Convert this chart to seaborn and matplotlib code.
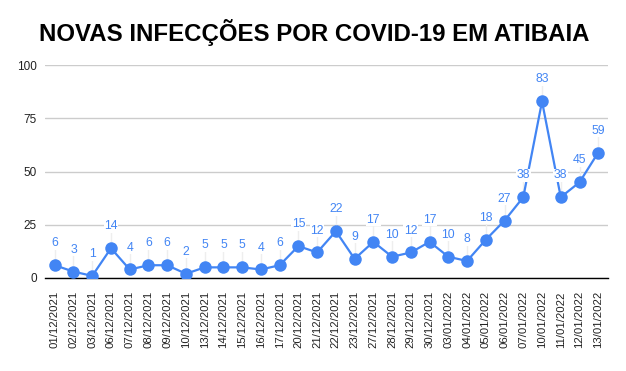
import numpy as np
import pandas as pd
import seaborn as sns
import matplotlib.pyplot as plt

dates = ["01/12/2021", "02/12/2021", "03/12/2021", "06/12/2021", "07/12/2021",
         "08/12/2021", "09/12/2021", "10/12/2021", "13/12/2021", "14/12/2021",
         "15/12/2021", "16/12/2021", "17/12/2021", "20/12/2021", "21/12/2021",
         "22/12/2021", "23/12/2021", "27/12/2021", "28/12/2021", "29/12/2021",
         "30/12/2021", "03/01/2022", "04/01/2022", "05/01/2022", "06/01/2022",
         "07/01/2022", "10/01/2022", "11/01/2022", "12/01/2022", "13/01/2022"]
cases = [6, 3, 1, 14, 4, 6, 6, 2, 5, 5, 5, 4, 6, 15, 12,
         22, 9, 17, 10, 12, 17, 10, 8, 18, 27, 38, 83, 38, 45, 59]
yticks = [0, 25, 50, 75, 100]

df = pd.DataFrame({"pos": np.arange(len(dates)), "date": dates, "cases": cases})

sns.set_style("white")
plt.rcParams["font.family"] = ["Liberation Sans", "DejaVu Sans"]

blue = "#4285F4"
fig = plt.figure(figsize=(6.26, 3.71), dpi=100)
ax = fig.add_axes([45 / 626, 1 - 278 / 371, (608 - 45) / 626, (278 - 65.3) / 371])

sns.lineplot(data=df, x="pos", y="cases", ax=ax, color=blue, linewidth=1.6,
             marker="o", markersize=9, markeredgewidth=0, sort=False, zorder=3)

for _, r in df.iterrows():
    ax.plot([r["pos"], r["pos"]], [r["cases"] + 3, r["cases"] + 8],
            color="#eeeeee", lw=1, zorder=1)
    ax.annotate(str(r["cases"]), (r["pos"], r["cases"]), xytext=(0, 11.5),
                textcoords="offset points", ha="center", va="bottom",
                color=blue, fontsize=8.8, zorder=5,
                bbox=dict(boxstyle="square,pad=0.05", fc="white", ec="none"))

ax.set_xlim(-0.52, len(dates) - 1 + 0.52)
ax.set_ylim(0, 100)
ax.set_yticks(yticks)
ax.set_xticks(df["pos"])
ax.set_xticklabels(dates, rotation=90, fontsize=8.2, color="#222222")
ax.tick_params(axis="y", length=0, labelsize=8.5, labelcolor="#222222", pad=6)
ax.tick_params(axis="x", direction="inout", length=9, width=1, color="black", pad=5)
ax.grid(axis="y", color="#cccccc", lw=1)
ax.set_axisbelow(True)
for s in ["top", "right", "left"]:
    ax.spines[s].set_visible(False)
ax.spines["bottom"].set_color("black")
ax.spines["bottom"].set_linewidth(1)
ax.set_xlabel("")
ax.set_ylabel("")

fig.suptitle("NOVAS INFECÇÕES POR COVID-19 EM ATIBAIA", x=314 / 626, y=1 - 33 / 371,
             va="center", fontsize=17.3, fontweight="bold", color="black")

fig.savefig("out.png", dpi=100)
